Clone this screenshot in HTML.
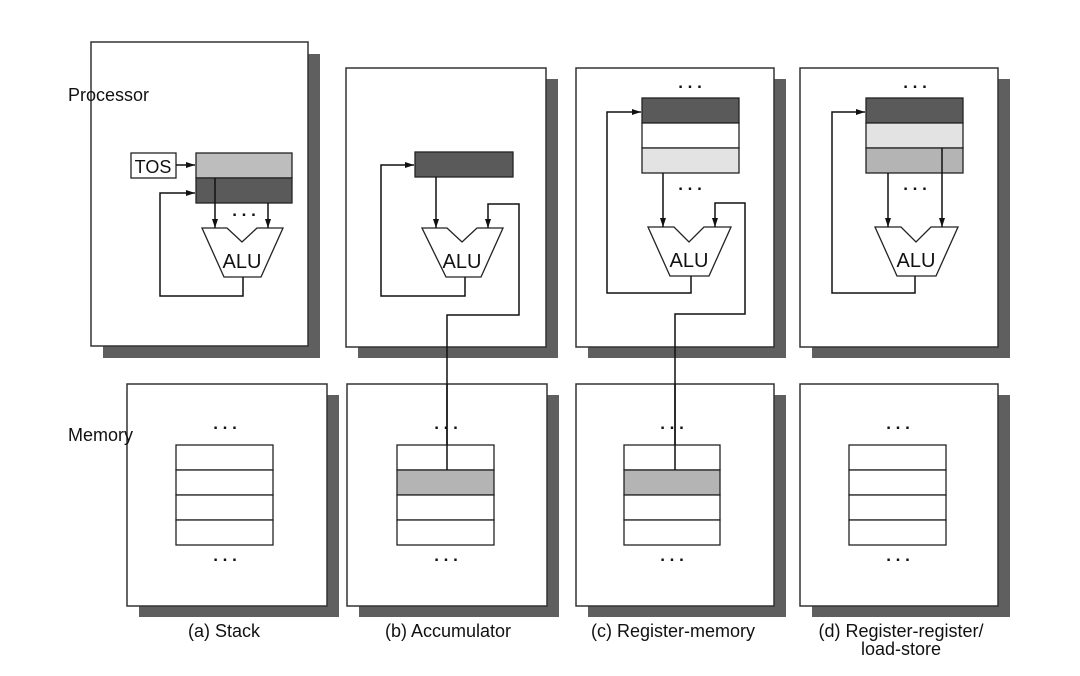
<!DOCTYPE html>
<html><head><meta charset="utf-8"><style>
html,body{margin:0;padding:0;background:#fff;}
svg{display:block;}
text{font-family:"Liberation Sans",sans-serif;fill:#111;}
</style></head><body>
<svg width="1080" height="676" viewBox="0 0 1080 676" xmlns="http://www.w3.org/2000/svg">
<defs>
<marker id="ar" markerWidth="10" markerHeight="8" refX="9" refY="4" orient="auto" markerUnits="userSpaceOnUse">
<path d="M0,1 L9,4 L0,7 Z" fill="#111"/>
</marker>
</defs>
<g fill="#5f5f5f">
<rect x="103" y="54" width="217" height="304"/>
<rect x="358" y="79" width="200" height="279"/>
<rect x="588" y="79" width="198" height="279"/>
<rect x="812" y="79" width="198" height="279"/>
<rect x="139" y="395" width="200" height="222"/>
<rect x="359" y="395" width="200" height="222"/>
<rect x="588" y="395" width="198" height="222"/>
<rect x="812" y="395" width="198" height="222"/>
</g>
<g fill="#fff" stroke="#333" stroke-width="1.5">
<rect x="91" y="42" width="217" height="304"/>
<rect x="346" y="68" width="200" height="279"/>
<rect x="576" y="68" width="198" height="279"/>
<rect x="800" y="68" width="198" height="279"/>
<rect x="127" y="384" width="200" height="222"/>
<rect x="347" y="384" width="200" height="222"/>
<rect x="576" y="384" width="198" height="222"/>
<rect x="800" y="384" width="198" height="222"/>
</g>
<text x="68" y="101" font-size="18">Processor</text>
<text x="68" y="441" font-size="18">Memory</text>

<g stroke="#222" stroke-width="1.3">
<rect x="196" y="153" width="96" height="25" fill="#bdbdbd"/>
<rect x="196" y="178" width="96" height="25" fill="#5a5a5a"/>
<rect x="415" y="152" width="98" height="25" fill="#5a5a5a"/>
<rect x="642" y="98" width="97" height="25" fill="#5a5a5a"/>
<rect x="642" y="123" width="97" height="25" fill="#fff"/>
<rect x="642" y="148" width="97" height="25" fill="#e3e3e3"/>
<rect x="866" y="98" width="97" height="25" fill="#5a5a5a"/>
<rect x="866" y="123" width="97" height="25" fill="#e3e3e3"/>
<rect x="866" y="148" width="97" height="25" fill="#b4b4b4"/>
<rect x="131" y="153" width="45" height="25" fill="#fff"/>
</g>
<text x="153" y="173" font-size="18" text-anchor="middle">TOS</text>

<g fill="#fff" stroke="#222" stroke-width="1.3">
<polygon points="202,228 227,228 242,242 257,228 283,228 261,277 224,277"/>
<polygon points="422,228 447,228 462,242 477,228 503,228 481,277 446,277"/>
<polygon points="648,227 674,227 689,242 704,227 731,227 709,276 670,276"/>
<polygon points="875,227 901,227 916,242 931,227 958,227 936,276 897,276"/>
</g>
<g font-size="20" text-anchor="middle">
<text x="242" y="268">ALU</text>
<text x="462" y="268">ALU</text>
<text x="689" y="267">ALU</text>
<text x="916" y="267">ALU</text>
</g>

<g fill="none" stroke="#111" stroke-width="1.5">
<line x1="176" y1="165" x2="195" y2="165" marker-end="url(#ar)"/>
<line x1="215" y1="178" x2="215" y2="228" marker-end="url(#ar)"/>
<line x1="268" y1="203" x2="268" y2="228" marker-end="url(#ar)"/>
<polyline points="243,277 243,296 160,296 160,193 195,193" marker-end="url(#ar)"/>

<line x1="436" y1="177" x2="436" y2="228" marker-end="url(#ar)"/>
<polyline points="447,470 447,315 519,315 519,204 488,204 488,228" marker-end="url(#ar)"/>
<polyline points="465,277 465,296 381,296 381,165 414,165" marker-end="url(#ar)"/>

<line x1="663" y1="173" x2="663" y2="227" marker-end="url(#ar)"/>
<polyline points="675,470 675,314 745,314 745,203 715,203 715,227" marker-end="url(#ar)"/>
<polyline points="691,276 691,293 607,293 607,112 641,112" marker-end="url(#ar)"/>

<line x1="888" y1="173" x2="888" y2="227" marker-end="url(#ar)"/>
<line x1="942" y1="148" x2="942" y2="227" marker-end="url(#ar)"/>
<polyline points="915,276 915,293 832,293 832,112 865,112" marker-end="url(#ar)"/>
</g>

<g stroke="#222" stroke-width="1.3" fill="#fff">
<rect x="176" y="445" width="97" height="25"/><rect x="176" y="470" width="97" height="25"/><rect x="176" y="495" width="97" height="25"/><rect x="176" y="520" width="97" height="25"/>
<rect x="397" y="445" width="97" height="25"/><rect x="397" y="470" width="97" height="25" fill="#b4b4b4"/><rect x="397" y="495" width="97" height="25"/><rect x="397" y="520" width="97" height="25"/>
<rect x="624" y="445" width="96" height="25"/><rect x="624" y="470" width="96" height="25" fill="#b4b4b4"/><rect x="624" y="495" width="96" height="25"/><rect x="624" y="520" width="96" height="25"/>
<rect x="849" y="445" width="97" height="25"/><rect x="849" y="470" width="97" height="25"/><rect x="849" y="495" width="97" height="25"/><rect x="849" y="520" width="97" height="25"/>
</g>
<line x1="447" y1="384" x2="447" y2="470" stroke="#111" stroke-width="1.5"/>
<line x1="675" y1="384" x2="675" y2="470" stroke="#111" stroke-width="1.5"/>

<g font-size="17" font-weight="bold" text-anchor="middle">
<text x="244" y="216">. . .</text>
<text x="690" y="88">. . .</text>
<text x="690" y="190">. . .</text>
<text x="915" y="88">. . .</text>
<text x="915" y="190">. . .</text>
<text x="225" y="429">. . .</text><text x="225" y="561">. . .</text>
<text x="446" y="429">. . .</text><text x="446" y="561">. . .</text>
<text x="672" y="429">. . .</text><text x="672" y="561">. . .</text>
<text x="898" y="429">. . .</text><text x="898" y="561">. . .</text>
</g>

<g font-size="18" text-anchor="middle">
<text x="224" y="637">(a) Stack</text>
<text x="448" y="637">(b) Accumulator</text>
<text x="673" y="637">(c) Register-memory</text>
<text x="901" y="637">(d) Register-register/</text>
<text x="901" y="655">load-store</text>
</g>
</svg>
</body></html>
